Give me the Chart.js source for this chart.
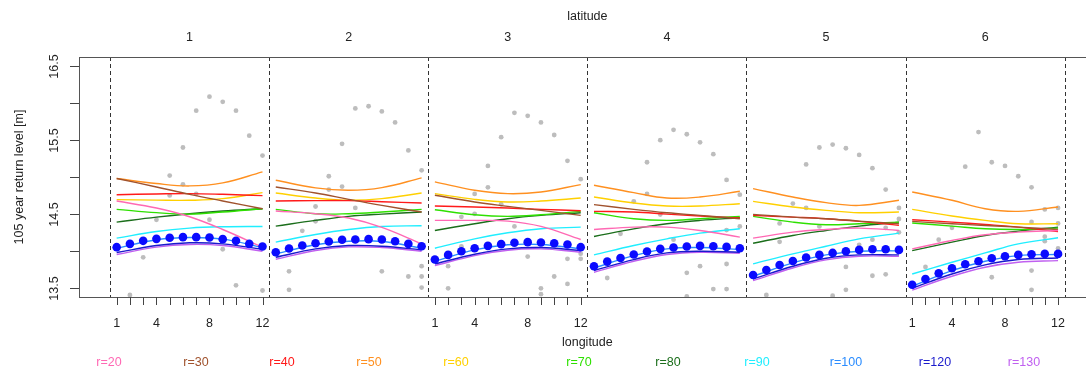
<!DOCTYPE html>
<html>
<head>
<meta charset="utf-8">
<script src="https://cdn.jsdelivr.net/npm/chart.js@4.4.1/dist/chart.umd.min.js"></script>
<style>
  html, body { margin: 0; padding: 0; background: #fff; overflow: hidden; }
  canvas { display: block; }
</style>
</head>
<body>
<canvas id="c" width="1100" height="370" style="width:1100px;height:370px"></canvas>
<script>
const latitudes = [1, 2, 3, 4, 5, 6];
const longitudes = [1, 2, 3, 4, 5, 6, 7, 8, 9, 10, 11, 12];
const lonKnots = [1, 4, 6.5, 9, 12];
const lonTickLabels = [1, 4, 8, 12];
const labelledPanels = [1, 3, 6];
const yTicks = [13.5, 14, 14.5, 15, 15.5, 16, 16.5];
const yTickLabels = ["13.5", "", "14.5", "", "15.5", "", "16.5"];
const radii = ["r=20", "r=30", "r=40", "r=50", "r=60", "r=70", "r=80", "r=90", "r=100", "r=120", "r=130"];

// return level per r, one row per latitude, values at lonKnots
const r20 = [
  [14.674, 14.579, 14.461, 14.288, 14.048],
  [14.538, 14.502, 14.443, 14.316, 14.093],
  [14.411, 14.411, 14.402, 14.330, 14.152],
  [14.288, 14.320, 14.320, 14.275, 14.184],
  [14.170, 14.252, 14.288, 14.307, 14.275],
  [14.025, 14.139, 14.216, 14.252, 14.275],
];
const r30 = [
  [14.980, 14.865, 14.765, 14.675, 14.570],
  [14.865, 14.783, 14.697, 14.615, 14.525],
  [14.752, 14.661, 14.602, 14.547, 14.479],
  [14.625, 14.561, 14.515, 14.479, 14.434],
  [14.493, 14.456, 14.434, 14.402, 14.366],
  [14.398, 14.366, 14.343, 14.320, 14.288],
];
const r40 = [
  [14.760, 14.770, 14.775, 14.765, 14.747],
  [14.674, 14.679, 14.679, 14.665, 14.647],
  [14.606, 14.593, 14.579, 14.561, 14.543],
  [14.534, 14.525, 14.497, 14.470, 14.443],
  [14.479, 14.456, 14.434, 14.398, 14.343],
  [14.420, 14.388, 14.356, 14.320, 14.261],
];
const r50 = [
  [14.979, 14.911, 14.879, 14.920, 15.070],
  [14.956, 14.852, 14.820, 14.856, 14.988],
  [14.933, 14.820, 14.774, 14.797, 14.897],
  [14.888, 14.788, 14.715, 14.729, 14.806],
  [14.843, 14.729, 14.652, 14.615, 14.684],
  [14.797, 14.684, 14.570, 14.534, 14.593],
];
const r60 = [
  [14.693, 14.686, 14.684, 14.706, 14.788],
  [14.783, 14.715, 14.684, 14.706, 14.783],
  [14.774, 14.697, 14.661, 14.674, 14.715],
  [14.729, 14.647, 14.606, 14.606, 14.638],
  [14.670, 14.593, 14.547, 14.515, 14.525],
  [14.561, 14.470, 14.411, 14.366, 14.366],
];
const r70 = [
  [14.561, 14.516, 14.497, 14.525, 14.570],
  [14.561, 14.502, 14.502, 14.525, 14.561],
  [14.556, 14.488, 14.466, 14.488, 14.534],
  [14.515, 14.434, 14.411, 14.434, 14.466],
  [14.466, 14.388, 14.352, 14.366, 14.388],
  [14.375, 14.334, 14.298, 14.288, 14.307],
];
const r80 = [
  [14.388, 14.456, 14.502, 14.538, 14.570],
  [14.334, 14.411, 14.466, 14.497, 14.525],
  [14.275, 14.366, 14.434, 14.479, 14.515],
  [14.193, 14.297, 14.366, 14.411, 14.448],
  [14.102, 14.207, 14.275, 14.334, 14.388],
  [14.002, 14.116, 14.207, 14.266, 14.320],
];
const r90 = [
  [14.170, 14.261, 14.307, 14.325, 14.329],
  [14.116, 14.220, 14.288, 14.329, 14.338],
  [14.034, 14.161, 14.243, 14.298, 14.320],
  [13.943, 14.070, 14.161, 14.238, 14.298],
  [13.821, 13.957, 14.061, 14.161, 14.238],
  [13.684, 13.843, 13.970, 14.093, 14.175],
];
const r100 = [
  [14.034, 14.148, 14.179, 14.157, 14.043],
  [13.957, 14.080, 14.129, 14.125, 14.034],
  [13.857, 14.011, 14.080, 14.084, 14.025],
  [13.766, 13.934, 14.025, 14.043, 14.016],
  [13.653, 13.834, 13.943, 13.993, 13.998],
  [13.516, 13.730, 13.857, 13.934, 13.948],
];
const r120 = [
  [13.975, 14.070, 14.107, 14.093, 14.020],
  [13.911, 14.025, 14.070, 14.061, 14.011],
  [13.821, 13.952, 14.025, 14.043, 14.002],
  [13.730, 13.880, 13.970, 13.993, 13.979],
  [13.616, 13.789, 13.898, 13.943, 13.943],
  [13.489, 13.684, 13.807, 13.880, 13.902],
];
const r130 = [
  [13.948, 14.048, 14.084, 14.070, 13.993],
  [13.884, 14.002, 14.052, 14.043, 13.993],
  [13.798, 13.934, 14.007, 14.025, 13.979],
  [13.707, 13.857, 13.948, 13.979, 13.966],
  [13.594, 13.766, 13.875, 13.925, 13.925],
  [13.466, 13.653, 13.775, 13.843, 13.866],
];

// blue points, one value per longitude
const fitted = [
  [14.048, 14.093, 14.134, 14.161, 14.175, 14.184, 14.184, 14.179, 14.157, 14.134, 14.093, 14.057],
  [13.979, 14.030, 14.070, 14.102, 14.125, 14.148, 14.152, 14.157, 14.152, 14.129, 14.093, 14.061],
  [13.880, 13.943, 13.993, 14.034, 14.066, 14.089, 14.107, 14.116, 14.111, 14.102, 14.084, 14.048],
  [13.789, 13.852, 13.902, 13.948, 13.989, 14.025, 14.043, 14.057, 14.066, 14.061, 14.052, 14.034],
  [13.671, 13.739, 13.807, 13.861, 13.907, 13.943, 13.970, 13.993, 14.011, 14.020, 14.020, 14.011],
  [13.539, 13.616, 13.693, 13.762, 13.816, 13.857, 13.898, 13.925, 13.943, 13.952, 13.957, 13.957],
];

// grey observations as [longitude, value]
const obsLat1 = [[2,13.40],[3,13.91],[4,14.42],[5,15.02],[5,14.75],[6,15.40],[6,14.90],[7,15.90],[7,14.77],[8,16.09],[8,14.42],[9,16.02],[9,14.02],[10,15.90],[10,13.53],[11,15.56],[12,15.29],[12,13.46]];
const obsLat2 = [[2,13.72],[2,13.47],[3,14.27],[4,14.60],[4,14.40],[5,15.01],[5,14.83],[6,15.45],[6,14.87],[7,15.93],[7,14.58],[8,15.96],[9,15.89],[9,13.72],[10,15.74],[11,15.36],[11,13.65],[12,15.09],[12,13.79],[12,13.65],[12,13.50]];
const obsLat3 = [[2,13.79],[2,13.49],[3,14.46],[3,14.06],[4,14.77],[4,14.50],[5,15.15],[5,14.86],[6,15.54],[6,14.63],[7,15.87],[7,14.33],[8,15.83],[8,13.92],[9,15.74],[9,13.49],[9,13.41],[10,15.57],[10,13.65],[11,15.22],[11,13.89],[11,13.55],[12,14.97],[12,13.96],[12,13.89]];
const obsLat4 = [[2,13.63],[3,14.23],[4,14.67],[5,15.20],[5,14.77],[6,15.50],[6,14.49],[7,15.64],[7,14.15],[8,15.58],[8,13.70],[8,13.38],[9,15.47],[9,13.79],[10,15.31],[10,13.48],[11,14.96],[11,14.28],[11,13.82],[11,13.48],[12,14.76],[12,14.33]];
const obsLat5 = [[2,13.40],[3,14.37],[3,14.12],[4,14.64],[5,15.17],[5,14.58],[6,15.40],[6,14.33],[7,15.44],[7,13.39],[8,15.39],[8,13.78],[8,13.47],[9,15.30],[9,14.08],[10,15.12],[10,14.15],[10,13.66],[11,14.83],[11,14.31],[11,13.68],[12,14.58],[12,14.43],[12,14.25]];
const obsLat6 = [[2,13.78],[3,14.15],[4,14.31],[5,15.14],[6,15.61],[7,15.20],[7,13.64],[8,15.15],[9,15.01],[10,14.86],[10,14.39],[10,13.73],[10,13.47],[11,14.56],[11,14.19],[11,14.13],[12,14.58],[12,14.37],[12,14.03]];

const lineColors = ["#ff69b4", "#a0522d", "#ff1a1a", "#ff9020", "#ffd000", "#2ee000", "#1b6e1b", "#20eeff", "#2a8cff", "#1a1acc", "#c060f0"];
const legendX = [109, 196, 282, 369, 456, 579, 668, 757, 846, 935, 1024];
const FONT = '"Liberation Sans", Arial, sans-serif';

const lineSets = [r20, r30, r40, r50, r60, r70, r80, r90, r100, r120, r130];
const obsSets = [obsLat1, obsLat2, obsLat3, obsLat4, obsLat5, obsLat6];

function gx(lat, lon) {
  return (lat - 1) * 12 + lon;
}

function curveData(rows) {
  const out = [];
  rows.forEach((row, i) => {
    lonKnots.forEach((lon, j) => out.push({ x: gx(i + 1, lon), y: row[j] }));
    out.push({ x: gx(i + 1, 12.5), y: null });
  });
  return out;
}

const datasets = [];

datasets.push({
  type: "scatter",
  data: obsSets.flatMap((pts, i) => pts.map(([lon, v]) => ({ x: gx(i + 1, lon), y: v }))),
  pointRadius: 2.4,
  pointBackgroundColor: "#bdbdbd",
  pointBorderWidth: 0,
  showLine: false,
  order: 3,
});

lineSets.forEach((rows, i) => {
  datasets.push({
    type: "line",
    data: curveData(rows),
    borderColor: lineColors[i],
    borderWidth: 1.4,
    pointRadius: 0,
    tension: 0.4,
    fill: false,
    order: 2,
  });
});

datasets.push({
  type: "scatter",
  data: fitted.flatMap((row, i) => row.map((v, j) => ({ x: gx(i + 1, longitudes[j]), y: v }))),
  pointRadius: 4.3,
  pointBackgroundColor: "#0a0aff",
  pointBorderWidth: 0,
  showLine: false,
  order: 1,
});

const framePlugin = {
  id: "frame",
  beforeDatasetsDraw(chart) {
    const { ctx, chartArea: a, scales: { x } } = chart;
    ctx.save();
    ctx.strokeStyle = "#333";
    ctx.lineWidth = 1;
    ctx.setLineDash([4, 3]);
    for (let k = 0; k <= latitudes.length; k++) {
      const px = Math.round(x.getPixelForValue(k * 12 + 0.5)) + 0.5;
      ctx.beginPath();
      ctx.moveTo(px, a.top);
      ctx.lineTo(px, a.bottom);
      ctx.stroke();
    }
    ctx.restore();
  },
  afterDraw(chart) {
    const { ctx, chartArea: a, scales: { x, y } } = chart;
    ctx.save();
    ctx.strokeStyle = "#555";
    ctx.lineWidth = 1;
    ctx.strokeRect(Math.round(a.left) + 0.5, Math.round(a.top) + 0.5, a.right - a.left, Math.round(a.bottom - a.top));

    ctx.fillStyle = "#222";
    ctx.font = `12.5px ${FONT}`;
    ctx.strokeStyle = "#444";

    yTicks.forEach((v, i) => {
      const py = Math.round(y.getPixelForValue(v)) + 0.5;
      ctx.beginPath();
      ctx.moveTo(a.left - 9, py);
      ctx.lineTo(a.left, py);
      ctx.stroke();
      if (yTickLabels[i]) {
        ctx.save();
        ctx.translate(58, py);
        ctx.rotate(-Math.PI / 2);
        ctx.textAlign = "center";
        ctx.textBaseline = "alphabetic";
        ctx.fillText(yTickLabels[i], 0, 0);
        ctx.restore();
      }
    });

    ctx.save();
    ctx.translate(23, (a.top + a.bottom) / 2);
    ctx.rotate(-Math.PI / 2);
    ctx.textAlign = "center";
    ctx.fillText("105 year return level [m]", 0, 0);
    ctx.restore();

    ctx.textAlign = "center";
    ctx.textBaseline = "middle";
    labelledPanels.forEach((lat) => {
      longitudes.forEach((lon) => {
        const px = Math.round(x.getPixelForValue(gx(lat, lon))) + 0.5;
        ctx.beginPath();
        ctx.moveTo(px, a.bottom);
        ctx.lineTo(px, a.bottom + 8);
        ctx.stroke();
      });
      lonTickLabels.forEach((lon) => {
        ctx.fillText(String(lon), x.getPixelForValue(gx(lat, lon)), 324);
      });
    });
    ctx.fillText("longitude", x.getPixelForValue(36.5), 343);

    latitudes.forEach((lat) => {
      ctx.fillText(String(lat), x.getPixelForValue(gx(lat, 6.5)), 38);
    });
    ctx.fillText("latitude", x.getPixelForValue(36.5), 17);

    radii.forEach((name, i) => {
      ctx.fillStyle = lineColors[i];
      ctx.fillText(name, legendX[i], 363);
    });
    ctx.restore();
  },
};

new Chart(document.getElementById("c"), {
  data: { datasets },
  options: {
    responsive: false,
    animation: false,
    events: [],
    devicePixelRatio: 1,
    layout: { padding: { left: 79, top: 57, right: 4, bottom: 73 } },
    plugins: { legend: { display: false }, tooltip: { enabled: false } },
    scales: {
      x: { type: "linear", min: -1.84, max: 74.84, display: false },
      y: { type: "linear", min: 13.372, max: 16.628, display: false },
    },
  },
  plugins: [framePlugin],
});
</script>
</body>
</html>
